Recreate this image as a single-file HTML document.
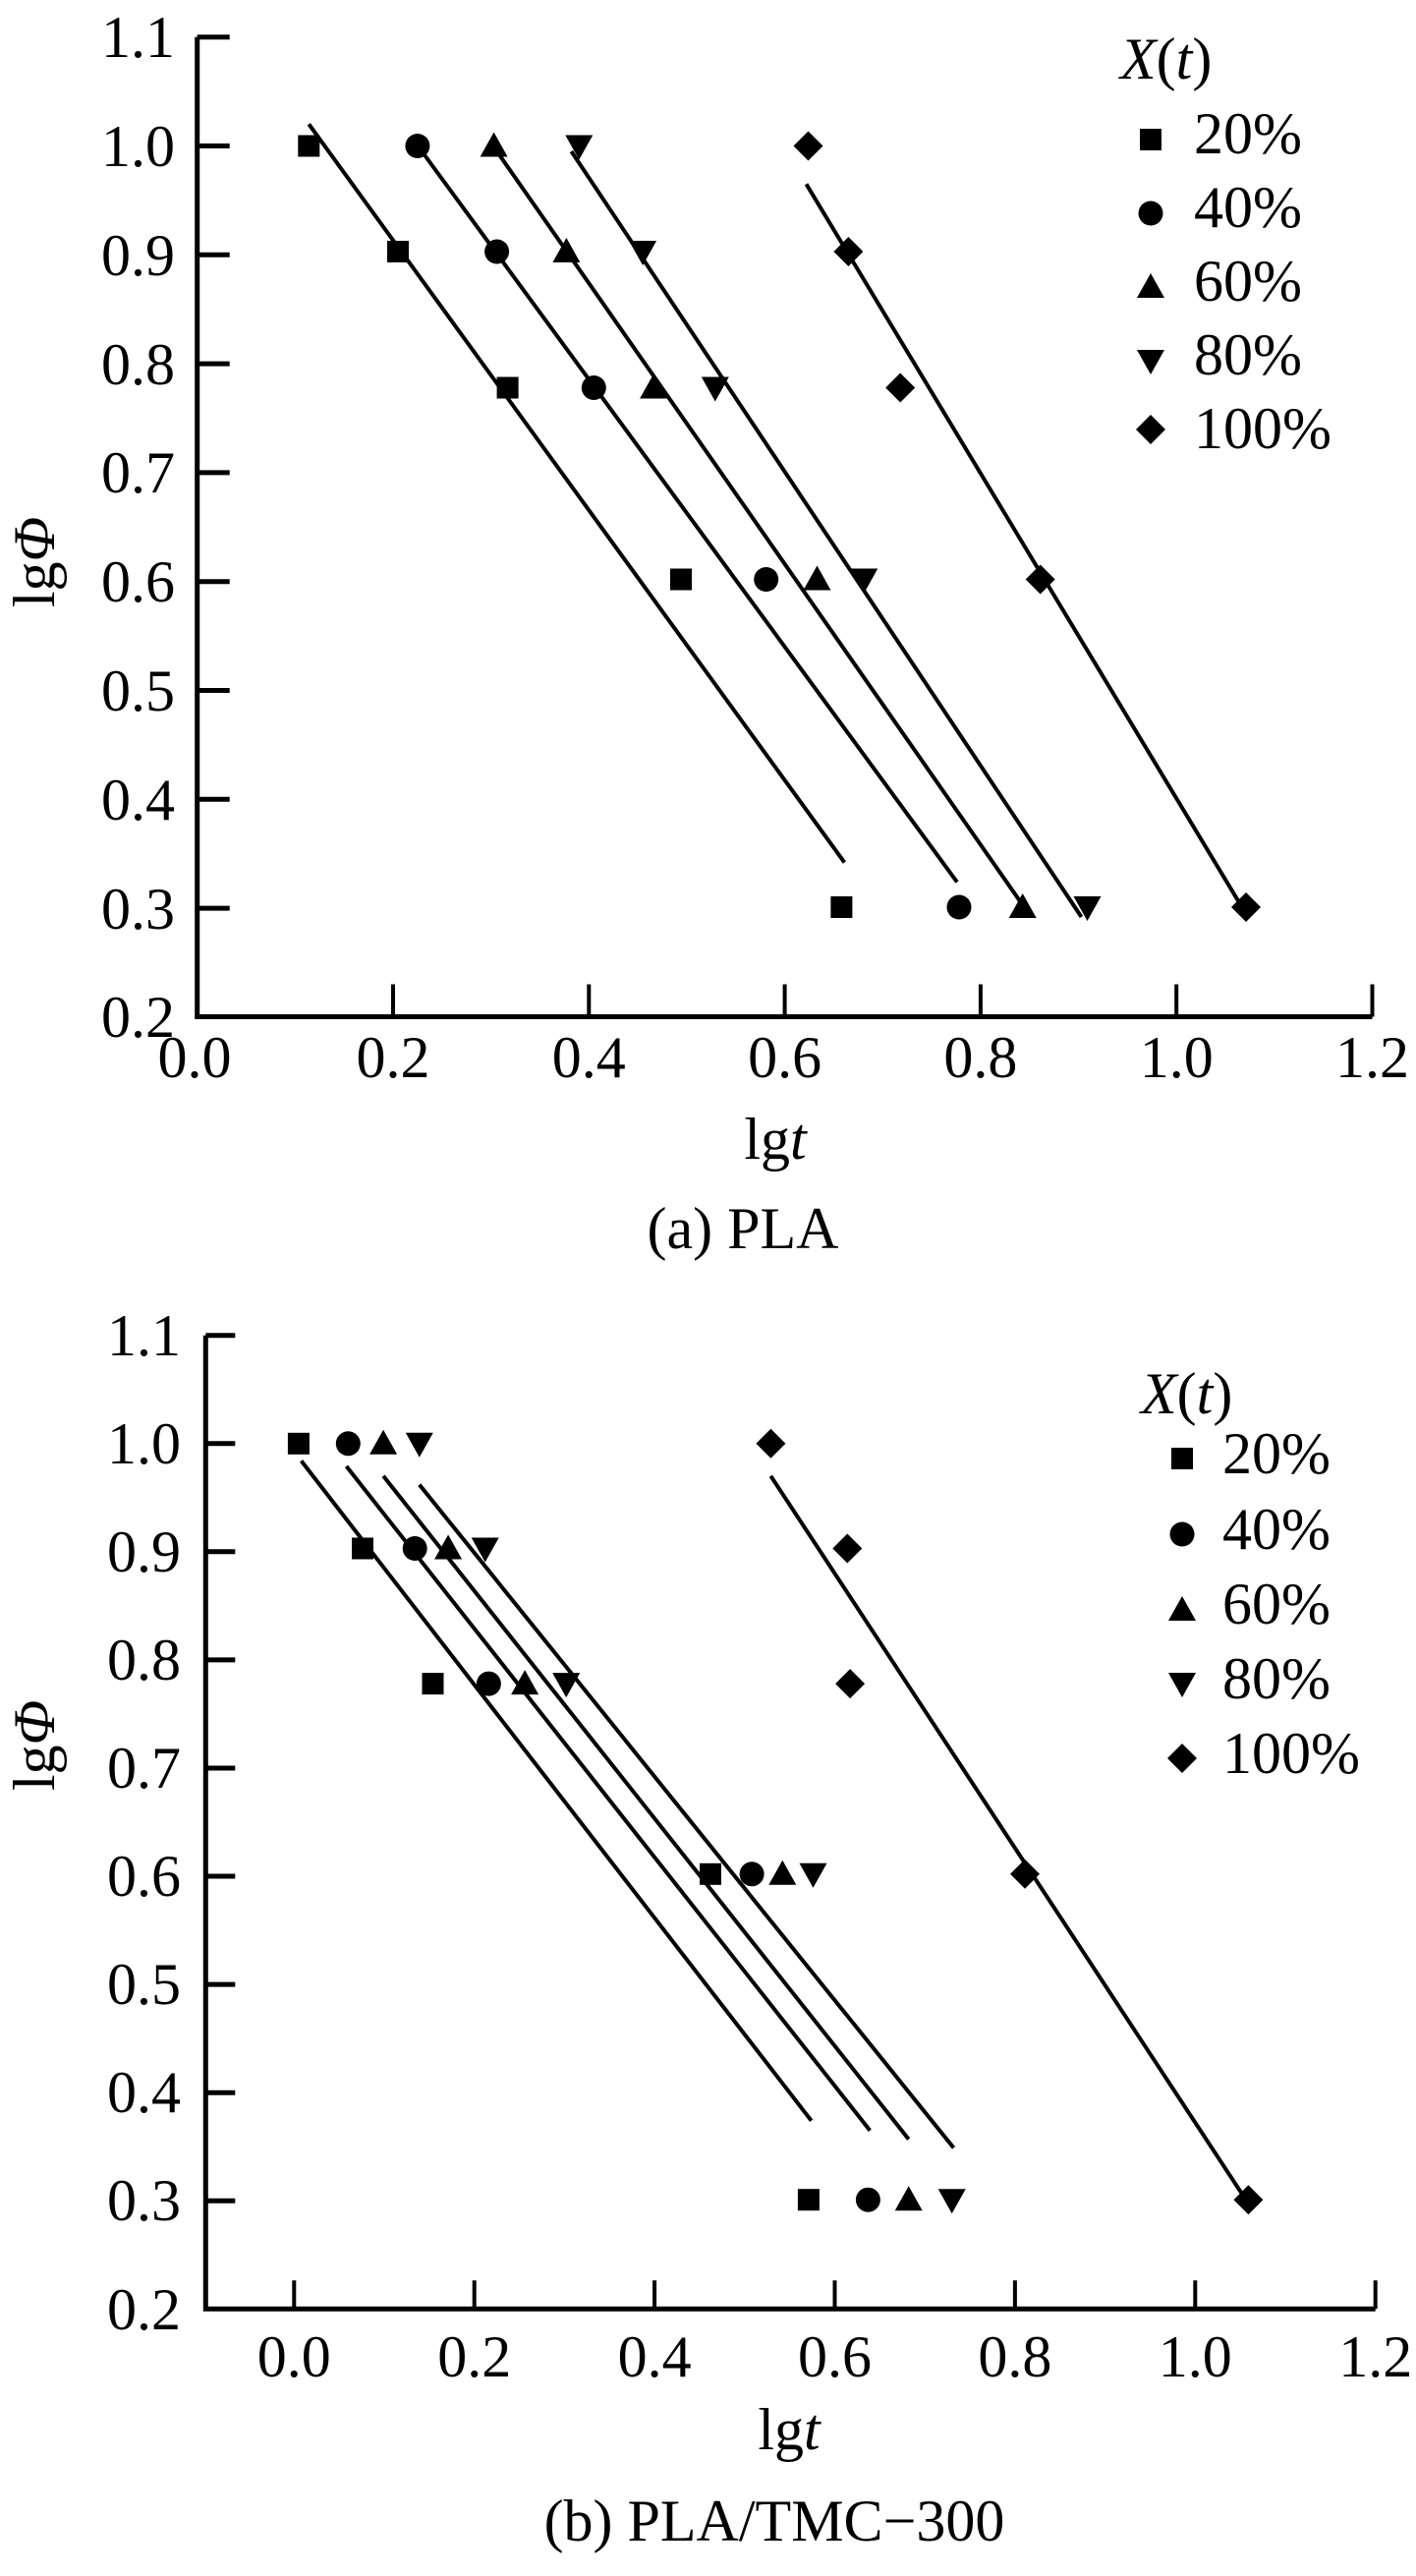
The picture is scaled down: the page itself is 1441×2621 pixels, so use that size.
<!DOCTYPE html>
<html><head><meta charset="utf-8"><style>
html,body{margin:0;padding:0;background:#fff}
svg{display:block}
text{font-family:"Liberation Serif",serif;fill:#000}
</style></head><body>
<svg width="1441" height="2621" viewBox="0 0 1441 2621" xmlns="http://www.w3.org/2000/svg">
<defs>
<rect id="sq" x="-11" y="-11" width="22" height="22" fill="#000"/>
<circle id="ci" r="12.5" fill="#000"/>
<polygon id="tu" points="0,-14 14,11 -14,11" fill="#000"/>
<polygon id="td" points="0,14 14,-11 -14,-11" fill="#000"/>
<polygon id="di" points="0,-15 15,0 0,15 -15,0" fill="#000"/>
</defs>

<!-- Panel A -->
<g stroke="#000" fill="none">
<path d="M200.7,37.7 V1034.5 H1396.5" stroke-width="5"/>
<g stroke-width="5">
<path d="M200.7,37.7h33M200.7,148.5h33M200.7,259.3h33M200.7,370.1h33M200.7,480.9h33M200.7,591.7h33M200.7,702.5h33M200.7,813.3h33M200.7,924.1h33M200.7,1034.5h33"/>
</g>
<g stroke-width="4">
<path d="M400,1034.5v-33M599.3,1034.5v-33M798.6,1034.5v-33M997.9,1034.5v-33M1197.2,1034.5v-33M1396.5,1034.5v-33"/>
</g>
<g stroke-width="4">
<line x1="314.3" y1="126.3" x2="859.4" y2="877.6"/>
<line x1="424.9" y1="148" x2="974" y2="897.5"/>
<line x1="502.6" y1="149.6" x2="1040.7" y2="920.8"/>
<line x1="581.4" y1="154" x2="1100.5" y2="933"/>
<line x1="820.5" y1="187.3" x2="1265.9" y2="926.3"/>
</g>
</g>
<g>
<use href="#sq" x="314.3" y="148.5"/><use href="#sq" x="405" y="256"/><use href="#sq" x="516.6" y="394.5"/><use href="#sq" x="693" y="589.5"/><use href="#sq" x="856.4" y="923"/>
<use href="#ci" x="424.9" y="148.5"/><use href="#ci" x="505.6" y="256"/><use href="#ci" x="604.3" y="394.5"/><use href="#ci" x="779.7" y="589.5"/><use href="#ci" x="976" y="923"/>
<use href="#tu" x="502.6" y="148.5"/><use href="#tu" x="576.4" y="256"/><use href="#tu" x="665.1" y="394.5"/><use href="#tu" x="831.5" y="589.5"/><use href="#tu" x="1040.7" y="923"/>
<use href="#td" x="589.3" y="148.5"/><use href="#td" x="654.1" y="256"/><use href="#td" x="727.8" y="394.5"/><use href="#td" x="879.3" y="589.5"/><use href="#td" x="1106.5" y="923"/>
<use href="#di" x="822.5" y="148.5"/><use href="#di" x="863.4" y="256"/><use href="#di" x="916.2" y="394.5"/><use href="#di" x="1058.7" y="589.5"/><use href="#di" x="1268" y="923"/>
</g>
<g font-size="60" text-anchor="end">
<text x="178" y="58">1.1</text><text x="178" y="169">1.0</text><text x="178" y="280">0.9</text><text x="178" y="391">0.8</text><text x="178" y="501">0.7</text><text x="178" y="612">0.6</text><text x="178" y="723">0.5</text><text x="178" y="834">0.4</text><text x="178" y="945">0.3</text><text x="178" y="1055">0.2</text>
</g>
<g font-size="60" text-anchor="middle">
<text x="198" y="1096">0.0</text><text x="400" y="1096">0.2</text><text x="599.3" y="1096">0.4</text><text x="798.6" y="1096">0.6</text><text x="997.9" y="1096">0.8</text><text x="1197.2" y="1096">1.0</text><text x="1396.5" y="1096">1.2</text>
<text x="789" y="1179">lg<tspan font-style="italic">t</tspan></text>
<text x="756" y="1270">(a) PLA</text>
</g>
<text font-size="60" transform="translate(55,572) rotate(-90)" text-anchor="middle">lg<tspan font-style="italic">Φ</tspan></text>
<g font-size="60">
<text x="1140" y="80" font-style="italic">X<tspan font-style="normal">(</tspan>t<tspan font-style="normal">)</tspan></text>
<text x="1215" y="156">20%</text><text x="1215" y="231">40%</text><text x="1215" y="306">60%</text><text x="1215" y="381">80%</text><text x="1215" y="456">100%</text>
</g>
<use href="#sq" x="1171" y="142"/><use href="#ci" x="1171" y="217"/><use href="#tu" x="1171" y="292"/><use href="#td" x="1171" y="367"/><use href="#di" x="1171" y="437"/>

<!-- Panel B -->
<g stroke="#000" fill="none">
<path d="M209.3,1358.7 V2349.3 H1399.7" stroke-width="5"/>
<g stroke-width="5">
<path d="M209.3,1358.7h30M209.3,1468.8h30M209.3,1578.8h30M209.3,1688.9h30M209.3,1799h30M209.3,1909h30M209.3,2019.1h30M209.3,2129.2h30M209.3,2239.2h30"/>
</g>
<g stroke-width="4">
<path d="M299.3,2349.3v-29M482.7,2349.3v-29M666.1,2349.3v-29M849.5,2349.3v-29M1032.9,2349.3v-29M1216.3,2349.3v-29M1399.7,2349.3v-29"/>
</g>
<g stroke-width="4">
<line x1="306.6" y1="1486.4" x2="825.7" y2="2157.8"/>
<line x1="352.5" y1="1491.9" x2="885.3" y2="2167.7"/>
<line x1="390.1" y1="1501.8" x2="924.7" y2="2176.6"/>
<line x1="426.8" y1="1510.6" x2="970.5" y2="2185.4"/>
<line x1="784.4" y1="1501.8" x2="1268.6" y2="2239.3"/>
</g>
</g>
<g>
<use href="#sq" x="303.9" y="1468.8"/><use href="#sq" x="369" y="1575.5"/><use href="#sq" x="440.5" y="1713.1"/><use href="#sq" x="723" y="1906.8"/><use href="#sq" x="822.9" y="2238.2"/>
<use href="#ci" x="354.3" y="1468.8"/><use href="#ci" x="422.2" y="1575.5"/><use href="#ci" x="497.4" y="1713.1"/><use href="#ci" x="765.1" y="1906.8"/><use href="#ci" x="883.4" y="2238.2"/>
<use href="#tu" x="390.1" y="1468.8"/><use href="#tu" x="456.1" y="1575.5"/><use href="#tu" x="534.1" y="1713.1"/><use href="#tu" x="796.3" y="1906.8"/><use href="#tu" x="924.7" y="2238.2"/>
<use href="#td" x="426.8" y="1468.8"/><use href="#td" x="493.7" y="1575.5"/><use href="#td" x="576.2" y="1713.1"/><use href="#td" x="827.5" y="1906.8"/><use href="#td" x="968.7" y="2238.2"/>
<use href="#di" x="784.4" y="1468.8"/><use href="#di" x="862.3" y="1575.5"/><use href="#di" x="865.1" y="1713.1"/><use href="#di" x="1043" y="1906.8"/><use href="#di" x="1270.4" y="2238.2"/>
</g>
<g font-size="60" text-anchor="end">
<text x="184" y="1379">1.1</text><text x="184" y="1489">1.0</text><text x="184" y="1599">0.9</text><text x="184" y="1709">0.8</text><text x="184" y="1819">0.7</text><text x="184" y="1929">0.6</text><text x="184" y="2039">0.5</text><text x="184" y="2149">0.4</text><text x="184" y="2259">0.3</text><text x="184" y="2370">0.2</text>
</g>
<g font-size="60" text-anchor="middle">
<text x="299.3" y="2418">0.0</text><text x="482.7" y="2418">0.2</text><text x="666.1" y="2418">0.4</text><text x="849.5" y="2418">0.6</text><text x="1032.9" y="2418">0.8</text><text x="1216.3" y="2418">1.0</text><text x="1399.7" y="2418">1.2</text>
<text x="803" y="2492">lg<tspan font-style="italic">t</tspan></text>
<text x="788" y="2585">(b) PLA/TMC−300</text>
</g>
<text font-size="60" transform="translate(55,1776) rotate(-90)" text-anchor="middle">lg<tspan font-style="italic">Φ</tspan></text>
<g font-size="60">
<text x="1161" y="1438" font-style="italic">X<tspan font-style="normal">(</tspan>t<tspan font-style="normal">)</tspan></text>
<text x="1244" y="1499">20%</text><text x="1244" y="1576">40%</text><text x="1244" y="1652">60%</text><text x="1244" y="1728">80%</text><text x="1244" y="1804">100%</text>
</g>
<use href="#sq" x="1203" y="1484"/><use href="#ci" x="1203" y="1561"/><use href="#tu" x="1203" y="1638"/><use href="#td" x="1203" y="1713"/><use href="#di" x="1203" y="1789"/>
</svg>
</body></html>
